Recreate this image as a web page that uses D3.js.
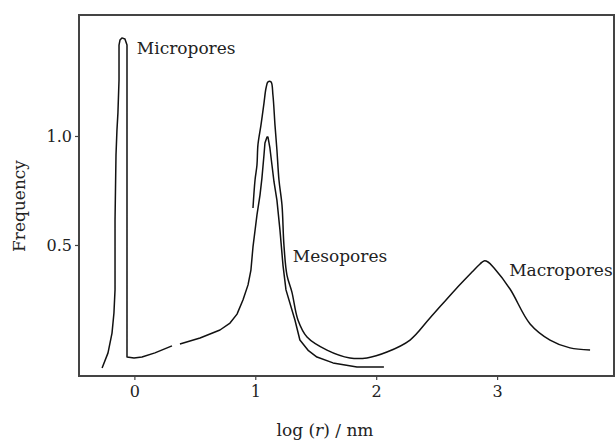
<!DOCTYPE html>
<html>
<head>
<meta charset="utf-8">
<script src="https://cdn.jsdelivr.net/npm/d3@7/dist/d3.min.js"></script>
<style>
  html, body { margin: 0; padding: 0; background: #fff; }
  svg { display: block; }
  text { font-family: "DejaVu Serif", "Liberation Serif", serif; fill: #222; }
</style>
</head>
<body>
<svg id="chart" width="616" height="441"></svg>
<script>
// Pore size distribution: frequency against log(r / nm)

// Curve 1: micropore spike, broad shoulder, mesopore peak, tail ending near log r = 2
// (null marks a break in the trace)
const curve1X = [-0.267, -0.218, -0.185, -0.169, -0.160, -0.160, -0.152, -0.144, -0.136, -0.127,
                 -0.127, -0.119, -0.103, -0.078, -0.061, -0.061, -0.061, -0.061, -0.061, -0.003,
                 0.063, 0.170, 0.311, null, 0.377, 0.543, 0.708, 0.791, 0.849, 0.898,
                 0.940, 0.964, 0.981, 1.014, 1.039, 1.055, 1.072, 1.080, 1.097, 1.105,
                 1.121, 1.138, 1.155, 1.179, 1.204, 1.229, 1.254, 1.328, 1.369, 1.440, 1.510,
                 1.643, 1.841, 2.064];
const curve1Y = [-0.064, 0.005, 0.096, 0.188, 0.294, 0.615, 0.913, 1.028, 1.106, 1.257,
                 1.417, 1.440, 1.450, 1.445, 1.417, 1.128, 0.706, 0.248, -0.014, -0.018,
                 -0.014, 0.005, 0.037, null, 0.046, 0.073, 0.110, 0.142, 0.183, 0.248,
                 0.317, 0.385, 0.491, 0.638, 0.729, 0.807, 0.913, 0.968, 0.995, 0.995,
                 0.945, 0.867, 0.789, 0.706, 0.569, 0.408, 0.294, 0.156, 0.064, 0.015, -0.014,
                 -0.041, -0.060, -0.060];

// Curve 2: taller mesopore peak continuing into the macropore band
const curve2X = [0.981, 0.998, 1.014, 1.022, 1.047, 1.072, 1.089, 1.105, 1.130, 1.146,
                 1.163, 1.179, 1.196, 1.221, 1.237, 1.262, 1.303, 1.353, 1.428, 1.593,
                 1.783, 1.924, 2.089, 2.280, 2.445, 2.652, 2.793, 2.859, 2.892, 2.925,
                 2.975, 3.107, 3.273, 3.438, 3.603, 3.769];
const curve2Y = [0.670, 0.798, 0.867, 0.959, 1.050, 1.151, 1.220, 1.248, 1.248, 1.188,
                 1.050, 0.936, 0.798, 0.683, 0.500, 0.362, 0.284, 0.156, 0.078, 0.018,
                 -0.018, -0.018, 0.009, 0.064, 0.165, 0.294, 0.376, 0.413, 0.427, 0.422,
                 0.394, 0.298, 0.138, 0.064, 0.028, 0.018];

const xTicks = [0, 1, 2, 3];
const yTicks = [0.5, 1.0];

// Region labels, placed at [log r, frequency]
const labelText = ["Micropores", "Mesopores", "Macropores"];
const labelX = [0.02, 1.31, 3.10];
const labelY = [1.375, 0.42, 0.36];

const svg = d3.select("#chart");
const plotLeft = 79, plotRight = 614, plotTop = 15, plotBottom = 376;

const x = d3.scaleLinear().domain([-0.458, 3.967]).range([plotLeft, plotRight]);
const y = d3.scaleLinear().domain([-0.101, 1.555]).range([plotBottom, plotTop]);

// Plot frame
svg.append("rect")
  .attr("x", plotLeft).attr("y", plotTop)
  .attr("width", plotRight - plotLeft).attr("height", plotBottom - plotTop)
  .attr("fill", "none").attr("stroke", "#444").attr("stroke-width", 2);

// Axes (ticks and labels only; frame draws the spines)
const yAxis = svg.append("g")
  .attr("transform", `translate(${plotLeft},0)`)
  .call(d3.axisLeft(y).tickValues(yTicks).tickFormat(d3.format(".1f")).tickSize(4).tickPadding(3));
const xAxis = svg.append("g")
  .attr("transform", `translate(0,${plotBottom})`)
  .call(d3.axisBottom(x).tickValues(xTicks).tickFormat(d3.format("d")).tickSize(4).tickPadding(6));
[xAxis, yAxis].forEach(g => {
  g.select(".domain").remove();
  g.selectAll(".tick line").attr("stroke", "#444").attr("stroke-width", 1.2);
  g.selectAll(".tick text")
    .attr("fill", "#222")
    .style("font-family", '"DejaVu Serif", "Liberation Serif", serif')
    .style("font-size", "16px");
});

// Distribution curves: the spiky trace stays straight-segmented,
// the macropore trace is smoothed through its samples
const makeLine = curve => d3.line()
  .defined(d => d[0] !== null && d[1] !== null)
  .x(d => x(d[0]))
  .y(d => y(d[1]))
  .curve(curve);

[[curve1X, curve1Y, d3.curveLinear], [curve2X, curve2Y, d3.curveCatmullRom.alpha(0.5)]]
  .forEach(([xs, ys, curve]) => {
    svg.append("path")
      .datum(xs.map((v, i) => [v, ys[i]]))
      .attr("d", makeLine(curve))
      .attr("fill", "none")
      .attr("stroke", "#111")
      .attr("stroke-width", 1.5)
      .attr("stroke-linejoin", "round");
  });

// Region labels
svg.selectAll("text.region")
  .data(labelText)
  .join("text")
  .attr("class", "region")
  .attr("x", (d, i) => x(labelX[i]))
  .attr("y", (d, i) => y(labelY[i]))
  .style("font-size", "17px")
  .text(d => d);

// Axis titles
const xTitle = svg.append("text")
  .attr("x", 325).attr("y", 436)
  .attr("text-anchor", "middle")
  .style("font-size", "17px");
xTitle.append("tspan").text("log (");
xTitle.append("tspan").style("font-style", "italic").text("r");
xTitle.append("tspan").text(") / nm");

svg.append("text")
  .attr("transform", "translate(25,206) rotate(-90)")
  .attr("text-anchor", "middle")
  .style("font-size", "17px")
  .text("Frequency");
</script>
</body>
</html>
